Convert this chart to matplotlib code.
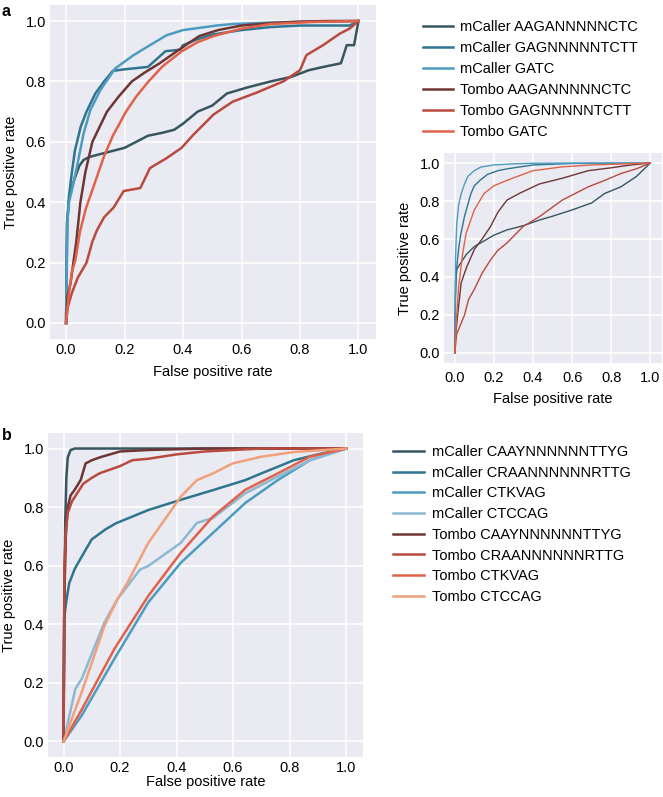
import numpy as np
import matplotlib
matplotlib.use('Agg')
import matplotlib.pyplot as plt

plt.rcParams['font.family'] = ['Liberation Sans', 'DejaVu Sans']
plt.rcParams['font.size'] = 10.5

# ---- panel a, main ROC curves (fpr, tpr) ----
a_labels = ['mCaller AAGANNNNNCTC', 'mCaller GAGNNNNNTCTT', 'mCaller GATC',
            'Tombo AAGANNNNNCTC', 'Tombo GAGNNNNNTCTT', 'Tombo GATC']
a_colors = ['#37555f', '#2f7590', '#4c9cc0', '#6e3535', '#b84a3e', '#e0624a']

a_fpr = [
    [0, 0.003, 0.01, 0.02, 0.03, 0.045, 0.06, 0.08, 0.12, 0.16, 0.2, 0.24, 0.28, 0.33, 0.37,
     0.4, 0.45, 0.5, 0.55, 0.62, 0.7, 0.77, 0.83, 0.88, 0.94, 0.96, 0.985, 1.0],
    [0, 0.004, 0.01, 0.02, 0.03, 0.05, 0.07, 0.1, 0.13, 0.16, 0.2, 0.28, 0.34, 0.39, 0.4,
     0.45, 0.5, 0.6, 0.7, 0.8, 0.9, 0.97, 1.0],
    [0, 0.004, 0.01, 0.02, 0.037, 0.06, 0.083, 0.117, 0.168, 0.231, 0.287, 0.344, 0.4,
     0.515, 0.57, 0.7, 0.85, 1.0],
    [0, 0.005, 0.015, 0.025, 0.035, 0.049, 0.066, 0.09, 0.115, 0.14, 0.18, 0.225, 0.27,
     0.32, 0.379, 0.455, 0.52, 0.6, 0.7, 0.8, 0.9, 1.0],
    [0, 0.005, 0.02, 0.04, 0.07, 0.09, 0.106, 0.13, 0.163, 0.197, 0.254, 0.287, 0.344,
     0.395, 0.435, 0.504, 0.57, 0.652, 0.743, 0.8, 0.822, 0.879, 0.936, 0.97, 1.0],
    [0, 0.01, 0.02, 0.032, 0.047, 0.068, 0.094, 0.129, 0.16, 0.205, 0.24, 0.282, 0.33,
     0.396, 0.45, 0.504, 0.6, 0.7, 0.85, 1.0],
]
a_tpr = [
    [0, 0.33, 0.41, 0.45, 0.48, 0.52, 0.54, 0.55, 0.56, 0.57, 0.58, 0.6, 0.62, 0.63, 0.64,
     0.66, 0.7, 0.72, 0.76, 0.78, 0.8, 0.815, 0.837, 0.848, 0.86, 0.92, 0.92, 1.0],
    [0, 0.33, 0.42, 0.5, 0.57, 0.65, 0.7, 0.76, 0.8, 0.835, 0.84, 0.848, 0.9, 0.905, 0.92,
     0.94, 0.955, 0.97, 0.98, 0.985, 0.985, 0.985, 1.0],
    [0, 0.33, 0.4, 0.44, 0.517, 0.628, 0.705, 0.771, 0.843, 0.887, 0.92, 0.953, 0.97,
     0.985, 0.99, 0.995, 0.998, 1.0],
    [0, 0.09, 0.13, 0.2, 0.27, 0.4, 0.5, 0.6, 0.65, 0.7, 0.75, 0.8, 0.83, 0.86, 0.9, 0.95,
     0.97, 0.985, 0.993, 0.998, 1.0, 1.0],
    [0, 0.05, 0.1, 0.15, 0.2, 0.27, 0.308, 0.35, 0.383, 0.437, 0.447, 0.513, 0.546, 0.58,
     0.623, 0.69, 0.733, 0.763, 0.8, 0.837, 0.887, 0.92, 0.958, 0.975, 1.0],
    [0, 0.1, 0.17, 0.209, 0.3, 0.38, 0.452, 0.55, 0.62, 0.7, 0.75, 0.8, 0.85, 0.9, 0.93,
     0.95, 0.975, 0.99, 0.997, 1.0],
]

# ---- panel a, inset ----
ai_fpr = [
    [0, 0.004, 0.01, 0.028, 0.06, 0.1, 0.15, 0.2, 0.267, 0.35, 0.433, 0.5, 0.6, 0.7, 0.767,
     0.85, 0.93, 1.0],
    [0, 0.004, 0.01, 0.02, 0.03, 0.05, 0.083, 0.1, 0.13, 0.167, 0.22, 0.27, 0.4, 0.6, 1.0],
    [0, 0.004, 0.01, 0.02, 0.033, 0.05, 0.067, 0.1, 0.133, 0.2, 0.3, 0.4, 0.6, 1.0],
    [0, 0.005, 0.02, 0.033, 0.06, 0.1, 0.14, 0.183, 0.22, 0.267, 0.33, 0.433, 0.55, 0.683,
     0.8, 0.9, 1.0],
    [0, 0.01, 0.03, 0.05, 0.07, 0.1, 0.14, 0.183, 0.22, 0.267, 0.35, 0.433, 0.55, 0.683,
     0.77, 0.85, 0.93, 1.0],
    [0, 0.01, 0.02, 0.04, 0.058, 0.1, 0.15, 0.2, 0.27, 0.4, 0.55, 0.7, 1.0],
]
ai_tpr = [
    [0, 0.38, 0.44, 0.47, 0.52, 0.56, 0.59, 0.62, 0.648, 0.67, 0.7, 0.72, 0.753, 0.79, 0.84,
     0.875, 0.93, 1.0],
    [0, 0.3, 0.45, 0.55, 0.62, 0.72, 0.84, 0.88, 0.91, 0.94, 0.96, 0.97, 0.99, 0.998, 1.0],
    [0, 0.5, 0.68, 0.78, 0.84, 0.89, 0.93, 0.96, 0.979, 0.99, 0.996, 0.999, 1.0, 1.0],
    [0, 0.1, 0.25, 0.37, 0.45, 0.545, 0.6, 0.666, 0.74, 0.805, 0.84, 0.89, 0.92, 0.96,
     0.975, 0.99, 1.0],
    [0, 0.1, 0.15, 0.2, 0.28, 0.335, 0.42, 0.49, 0.54, 0.579, 0.666, 0.718, 0.805, 0.875,
     0.91, 0.945, 0.97, 1.0],
    [0, 0.2, 0.35, 0.52, 0.63, 0.753, 0.84, 0.88, 0.91, 0.96, 0.98, 0.99, 1.0],
]

# ---- panel b ----
b_labels = ['mCaller CAAYNNNNNNTTYG', 'mCaller CRAANNNNNNRTTG', 'mCaller CTKVAG',
            'mCaller CTCCAG', 'Tombo CAAYNNNNNNTTYG', 'Tombo CRAANNNNNNRTTG',
            'Tombo CTKVAG', 'Tombo CTCCAG']
b_colors = ['#37555f', '#2f7590', '#4c9cc0', '#8cb8d4',
            '#6e3535', '#b84a3e', '#e0624a', '#f0a07a']

b_fpr = [
    [0, 0.003, 0.006, 0.01, 0.015, 0.025, 0.04, 0.1, 1.0],
    [0, 0.002, 0.01, 0.02, 0.04, 0.072, 0.1, 0.15, 0.186, 0.3, 0.415, 0.529, 0.643, 0.7,
     0.815, 0.9, 1.0],
    [0, 0.065, 0.18, 0.3, 0.415, 0.529, 0.643, 0.758, 0.872, 1.0],
    [0, 0.042, 0.065, 0.145, 0.191, 0.271, 0.3, 0.415, 0.472, 0.529, 0.643, 0.758, 0.872, 1.0],
    [0, 0.003, 0.008, 0.015, 0.025, 0.04, 0.061, 0.078, 0.1, 0.129, 0.2, 0.3, 0.5, 1.0],
    [0, 0.003, 0.008, 0.015, 0.03, 0.05, 0.07, 0.1, 0.129, 0.2, 0.243, 0.3, 0.4, 0.5,
     0.7, 1.0],
    [0, 0.065, 0.18, 0.3, 0.415, 0.529, 0.643, 0.758, 0.872, 1.0],
    [0, 0.034, 0.065, 0.145, 0.191, 0.225, 0.3, 0.358, 0.415, 0.472, 0.529, 0.598, 0.7,
     0.815, 1.0],
]
b_tpr = [
    [0, 0.45, 0.75, 0.9, 0.97, 0.995, 1.0, 1.0, 1.0],
    [0, 0.42, 0.48, 0.54, 0.59, 0.644, 0.69, 0.725, 0.745, 0.79, 0.825, 0.858, 0.892, 0.915,
     0.96, 0.98, 1.0],
    [0, 0.09, 0.282, 0.475, 0.61, 0.712, 0.814, 0.892, 0.96, 1.0],
    [0, 0.18, 0.215, 0.407, 0.486, 0.587, 0.599, 0.678, 0.746, 0.763, 0.847, 0.904, 0.96, 1.0],
    [0, 0.5, 0.7, 0.8, 0.84, 0.86, 0.893, 0.949, 0.96, 0.97, 0.99, 0.995, 1.0, 1.0],
    [0, 0.6, 0.72, 0.78, 0.82, 0.85, 0.88, 0.9, 0.916, 0.94, 0.96, 0.965, 0.98, 0.99,
     1.0, 1.0],
    [0, 0.11, 0.316, 0.497, 0.644, 0.768, 0.859, 0.915, 0.972, 1.0],
    [0, 0.09, 0.17, 0.395, 0.486, 0.54, 0.678, 0.757, 0.836, 0.892, 0.915, 0.949, 0.972,
     0.988, 1.0],
]

ticks = [0.0, 0.2, 0.4, 0.6, 0.8, 1.0]


def style_ax(ax):
    ax.set_facecolor('#eaeaf2')
    for s in ax.spines.values():
        s.set_visible(False)
    ax.grid(True, color='white', linewidth=1.1)
    ax.set_axisbelow(True)
    ax.tick_params(length=0, pad=3, labelsize=10.5)
    ax.set_xticks(ticks)
    ax.set_yticks(ticks)
    ax.set_xticklabels(['%.1f' % t for t in ticks])
    ax.set_yticklabels(['%.1f' % t for t in ticks])
    ax.set_xlim(-0.055, 1.06)
    ax.set_ylim(-0.053, 1.053)
    ax.set_xlabel('False positive rate', fontsize=10.5, labelpad=2)
    ax.set_ylabel('True positive rate', fontsize=10.5, labelpad=5)


W, H = 663, 797
fig = plt.figure(figsize=(W / 100, H / 100), dpi=100)

ax_a = fig.add_axes([50 / W, 1 - 339 / H, 326 / W, 334 / H])
ax_i = fig.add_axes([444 / W, 1 - 363 / H, 218 / W, 210 / H])
ax_b = fig.add_axes([48 / W, 1 - 757 / H, 315 / W, 324 / H])

for x, y, c, lab in zip(a_fpr, a_tpr, a_colors, a_labels):
    ax_a.plot(x, y, color=c, lw=1.8, label=lab)
for x, y, c in zip(ai_fpr, ai_tpr, a_colors):
    ax_i.plot(x, y, color=c, lw=1.0)
for x, y, c, lab in zip(b_fpr, b_tpr, b_colors, b_labels):
    ax_b.plot(x, y, color=c, lw=1.8, label=lab)

for ax in (ax_a, ax_i, ax_b):
    style_ax(ax)
ax_a.xaxis.labelpad = 6
ax_i.tick_params(axis='x', pad=6)
ax_i.xaxis.labelpad = 5
ax_b.xaxis.labelpad = 0

h, l = ax_a.get_legend_handles_labels()
fig.legend(h, l, loc='upper left', bbox_to_anchor=(423 / W, 1 - 20 / H),
           frameon=False, fontsize=10.5, handlelength=2.05, handletextpad=0.5,
           labelspacing=0.48, borderpad=0, borderaxespad=0)
h, l = ax_b.get_legend_handles_labels()
fig.legend(h, l, loc='upper left', bbox_to_anchor=(393 / W, 1 - 445 / H),
           frameon=False, fontsize=10.5, handlelength=2.1, handletextpad=0.55,
           labelspacing=0.46, borderpad=0, borderaxespad=0)

fig.text(2 / W, 1 - 12 / H, 'a', fontsize=11.5, fontweight='bold', va='center')
fig.text(2 / W, 1 - 435 / H, 'b', fontsize=11.5, fontweight='bold', va='center')

fig.savefig('out.png', dpi=100)
